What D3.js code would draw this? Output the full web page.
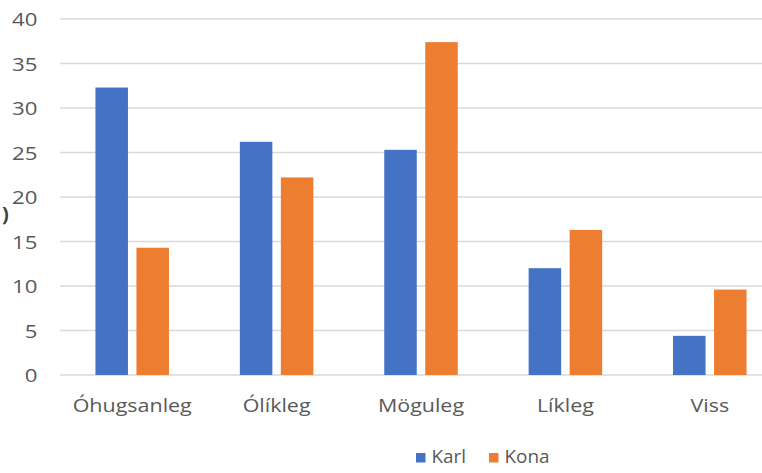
<!DOCTYPE html>
<html><head><meta charset="utf-8">
<script src="https://cdn.jsdelivr.net/npm/d3@7"></script>
<style>html,body{margin:0;padding:0;background:#fff;overflow:hidden}</style>
</head><body>
<svg id="c" width="762" height="473"></svg>
<script>
const categories = ["Óhugsanleg", "Ólíkleg", "Möguleg", "Líkleg", "Viss"];
const seriesNames = ["Karl", "Kona"];
const karl = [32.3, 26.2, 25.3, 12.0, 4.4];
const kona = [14.3, 22.2, 37.4, 16.3, 9.6];
const yTicks = [0, 5, 10, 15, 20, 25, 30, 35, 40];
const colors = ["#4472C4", "#ED7D31"];

const svg = d3.select("#c");
const font = "'Open Sans', 'Noto Sans', sans-serif";
const textColor = "#595959";

const y = d3.scaleLinear().domain([0, 40]).range([375, 19]);
const x0 = d3.scaleBand().domain(categories).range([60, 782]).padding(0);
const groupW = 73.5;
const x1 = d3.scaleBand().domain(seriesNames).range([0, groupW]).paddingInner(0.207);

// gridlines
svg.append("g").selectAll("line").data(yTicks).join("line")
  .attr("x1", 60).attr("x2", 762)
  .attr("y1", d => y(d)).attr("y2", d => y(d))
  .attr("stroke", "#d9d9d9").attr("stroke-width", 1.3);

// y axis labels
const yAxis = d3.axisLeft(y).tickValues(yTicks).tickSize(0).tickPadding(0);
const ya = svg.append("g").attr("transform", "translate(37.5,0)").call(yAxis);
ya.select(".domain").remove();
ya.selectAll("text").attr("font-family", font).attr("font-size", 19).attr("fill", textColor)
  .attr("dy", "0.35em").attr("transform", "scale(1.17,1)");

// bars
const data = categories.map((c, i) => ({cat: c, vals: [karl[i], kona[i]]}));
const groups = svg.append("g").selectAll("g").data(data).join("g")
  .attr("transform", d => `translate(${x0(d.cat) + (x0.bandwidth() - groupW) / 2},0)`);
groups.selectAll("rect").data(d => d.vals.map((v, j) => ({s: seriesNames[j], v, j})))
  .join("rect")
  .attr("x", d => x1(d.s)).attr("width", x1.bandwidth())
  .attr("y", d => y(d.v)).attr("height", d => y(0) - y(d.v))
  .attr("fill", d => colors[d.j]);

// x labels
const xAxis = d3.axisBottom(x0).tickSize(0).tickPadding(0);
const xa = svg.append("g").attr("transform", "translate(0,412)").call(xAxis);
xa.select(".domain").remove();
xa.selectAll("text").attr("font-family", font).attr("font-size", 19).attr("fill", textColor)
  .attr("y", 0).attr("dy", 0).attr("transform", "scale(1.13,1)");

// left cropped mark
svg.append("text").attr("x", 2).attr("y", 221).attr("font-family", font)
  .attr("font-size", 20).attr("font-weight", "bold").attr("fill", "#404040").text(")");

// legend
const legend = svg.append("g");
const legX = [416, 489];
seriesNames.forEach((s, i) => {
  legend.append("rect").attr("x", legX[i]).attr("y", 453).attr("width", 9.5).attr("height", 9.5).attr("fill", colors[i]);
  const tx = legX[i] + 15.5;
  legend.append("text").attr("x", tx).attr("y", 463.5).attr("font-family", font)
    .attr("font-size", 18).attr("fill", textColor)
    .attr("transform", `translate(${tx},0) scale(1.05,1) translate(${-tx},0)`).text(s);
});
</script>
</body></html>
